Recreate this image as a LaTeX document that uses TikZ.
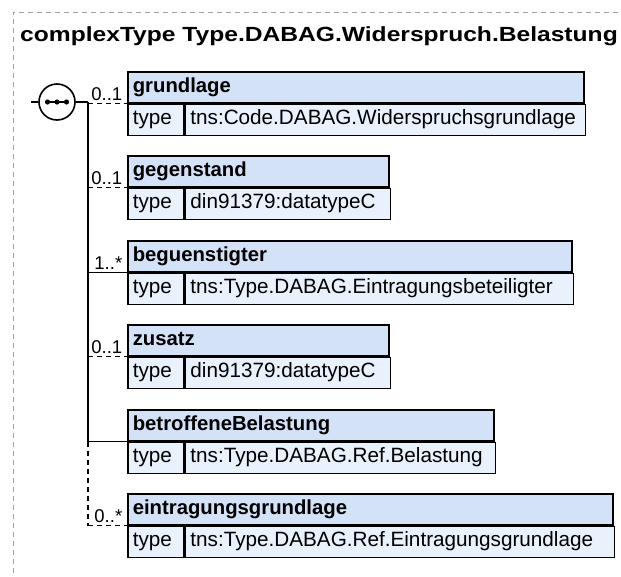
\documentclass[tikz,border=0pt]{standalone}
\usepackage{fontspec}
\setmainfont{Liberation Sans}
\newfontfamily\titlefont{Liberation Sans}[FakeStretch=1.2]
\usetikzlibrary{positioning}
\definecolor{headBlue}{RGB}{212,226,248}
\definecolor{rowBlue}{RGB}{233,241,253}
\definecolor{frameGray}{RGB}{160,160,160}
\tikzset{
  elemHead/.style={draw, line width=1.6pt, fill=headBlue, anchor=north west, align=left,
    inner xsep=5pt, inner ysep=5.5pt, text height=15pt, text depth=5pt,
    font=\fontsize{20.3}{24}\selectfont\bfseries},
  elemCell/.style={draw, line width=1.6pt, fill=rowBlue, anchor=north west, align=left,
    inner xsep=5pt, inner ysep=5.5pt, text height=15pt, text depth=5pt,
    font=\fontsize{20.7}{24}\selectfont},
  card/.style={anchor=base east, inner sep=0pt, xshift=-4pt, yshift=3.5pt,
    font=\fontsize{18.5}{20}\selectfont},
  optLink/.style={line width=1.6pt, dash pattern=on 5pt off 4pt},
  reqLink/.style={line width=1.6pt},
}
\begin{document}
\begin{tikzpicture}[x={(1pt,0)}, y={(0,-1pt)}]
  \useasboundingbox (0,0) rectangle (621,576);
  % Frame and title
  \draw[frameGray, line width=0.8pt, dash pattern=on 5pt off 4pt] (13,600) -- (13,12.3) -- (640,12.3);
  \node[anchor=base west, inner sep=0pt, font=\titlefont\bfseries\fontsize{20.5}{24}\selectfont] (title) at (20,41.7)
    {complexType Type.DABAG.Widerspruch.Belastung};
  % Sequence
  \coordinate (seqIn) at (31,102);
  \coordinate (spine) at (88,102);
  \node[draw, circle, line width=1.6pt, minimum size=36pt, inner sep=0pt, fill=white] (seq) at (57,102) {};
  \draw[line width=1.2pt] ([xshift=-9.5pt]seq.center) -- ([xshift=9.5pt]seq.center);
  \foreach \dx in {-9.5,0,9.5}
    \fill ([xshift=\dx pt]seq.center) circle (2.6pt);
  \draw[reqLink] (seqIn) -- (seq.west);
  \draw[reqLink] (seq.east) -- (spine);
  % grundlage
  \node[elemHead, text width=446pt] (grundlage) at (127,71) {grundlage};
  \node[elemCell, text width=46pt] (grundlageType) at (grundlage.south west) {type};
  \node[elemCell, text width=390pt] (grundlageVal) at (grundlageType.north east) {tns:Code.DABAG.Widerspruchsgrundlage};
  % gegenstand
  \node[elemHead, text width=251pt] (gegenstand) at (127,155) {gegenstand};
  \node[elemCell, text width=46pt] (gegenstandType) at (gegenstand.south west) {type};
  \node[elemCell, text width=195pt] (gegenstandVal) at (gegenstandType.north east) {din91379:datatypeC};
  % beguenstigter
  \node[elemHead, text width=434pt] (beguenstigter) at (127,240) {beguenstigter};
  \node[elemCell, text width=46pt] (beguenstigterType) at (beguenstigter.south west) {type};
  \node[elemCell, text width=378pt] (beguenstigterVal) at (beguenstigterType.north east) {tns:Type.DABAG.Eintragungsbeteiligter};
  % zusatz
  \node[elemHead, text width=251pt] (zusatz) at (127,324) {zusatz};
  \node[elemCell, text width=46pt] (zusatzType) at (zusatz.south west) {type};
  \node[elemCell, text width=195pt] (zusatzVal) at (zusatzType.north east) {din91379:datatypeC};
  % betroffeneBelastung
  \node[elemHead, text width=356pt] (betroffene) at (127,409) {betroffeneBelastung};
  \node[elemCell, text width=46pt] (betroffeneType) at (betroffene.south west) {type};
  \node[elemCell, text width=300pt] (betroffeneVal) at (betroffeneType.north east) {tns:Type.DABAG.Ref.Belastung};
  % eintragungsgrundlage
  \node[elemHead, text width=475pt] (eintragung) at (127,493) {eintragungsgrundlage};
  \node[elemCell, text width=46pt] (eintragungType) at (eintragung.south west) {type};
  \node[elemCell, text width=419pt] (eintragungVal) at (eintragungType.north east) {tns:Type.DABAG.Ref.Eintragungsgrundlage};
  % Spine and branches
  \draw[reqLink] (spine) -- (spine |- betroffene.south west);
  \draw[optLink] (spine |- betroffene.south west) -- (spine |- eintragung.south west);
  \draw[optLink] (spine |- grundlage.south west) -- (grundlage.south west) node[card] {0..1};
  \draw[optLink] (spine |- gegenstand.south west) -- (gegenstand.south west) node[card] {0..1};
  \draw[reqLink] (spine |- beguenstigter.south west) -- (beguenstigter.south west) node[card] {1..*};
  \draw[optLink] (spine |- zusatz.south west) -- (zusatz.south west) node[card] {0..1};
  \draw[reqLink] (spine |- betroffene.south west) -- (betroffene.south west);
  \draw[optLink] (spine |- eintragung.south west) -- (eintragung.south west) node[card] {0..*};
\end{tikzpicture}
\end{document}
